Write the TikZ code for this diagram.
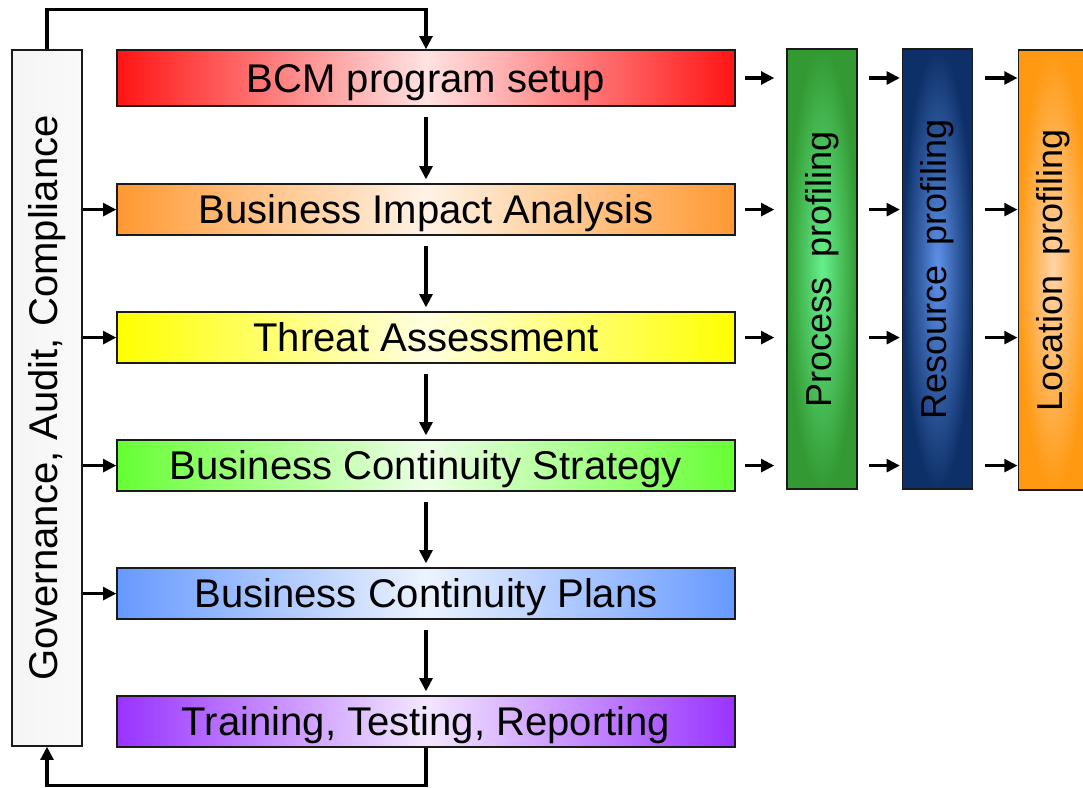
\documentclass[tikz,border=0pt]{standalone}
\usepackage{fontspec}
\setmainfont{Liberation Sans}
\usetikzlibrary{arrows.meta}
\definecolor{edge}{HTML}{1A1A1A}
\definecolor{setupred}{HTML}{FF1414}
\definecolor{biaorange}{HTML}{FF9933}
\definecolor{threatyellow}{HTML}{FFFF00}
\definecolor{stratgreen}{HTML}{66FF33}
\definecolor{plansblue}{HTML}{6699FF}
\definecolor{trainpurple}{HTML}{9933FF}
\definecolor{procout}{HTML}{339933}
\definecolor{procin}{HTML}{66F08C}
\definecolor{resout}{HTML}{0E3068}
\definecolor{resin}{HTML}{5E92EA}
\definecolor{locout}{HTML}{FF9911}
\definecolor{locin}{HTML}{FFD4A8}
\tikzset{phase/.style={draw=edge,line width=1pt,minimum width=15.45cm,minimum height=1.275cm,inner sep=0pt,text height=20.4pt,text depth=0pt,yshift=-.04cm,font=\fontsize{28.5}{34}\selectfont,left color=#1,right color=#1,middle color=#1!12},bar/.style={draw=edge,line width=1pt,minimum width=1.75cm,minimum height=11cm,inner sep=0pt,font=\fontsize{25.6}{30}\selectfont}}

\begin{document}
\begin{tikzpicture}[tr/.style={-{Triangle[length=3.3mm,width=3.2mm]},line width=2.2pt}]
\useasboundingbox (0,0) rectangle (27.075,-19.7);
\node[draw=edge,line width=1pt,minimum width=1.75cm,minimum height=17.4cm,inner sep=0pt,font=\fontsize{28.5}{34}\selectfont,left color=gray!8,middle color=gray!58,right color=gray!4] (gov) at (1.175,-9.95) {\rotatebox{90}{Governance, Audit, Compliance}};
\node[phase=setupred,minimum height=1.4cm] (setup) at (10.65,-1.91) {BCM program setup};
\node[phase=biaorange] (bia) at (10.65,-5.2) {Business Impact Analysis};
\node[phase=threatyellow] (threat) at (10.65,-8.4) {Threat Assessment};
\node[phase=stratgreen] (strat) at (10.65,-11.6) {Business Continuity Strategy};
\node[phase=plansblue] (plans) at (10.65,-14.8) {Business Continuity Plans};
\node[phase=trainpurple] (train) at (10.65,-18) {Training, Testing, Reporting};
\node[bar,inner color=procin,outer color=procout] (proc) at (20.55,-6.725) {\rotatebox{90}{Process\ \ profiling}};
\node[bar,inner color=resin,outer color=resout] (res) at (23.44,-6.725) {\rotatebox{90}{Resource\ \ profiling}};
\node[bar,inner color=locin,outer color=locout] (loc) at (26.33,-6.75) {\rotatebox{90}{Location\ \ profiling}};
% phase sequence
\foreach \a/\b in {setup/bia,bia/threat,threat/strat,strat/plans,plans/train}
  \draw[tr,shorten <=.25cm,shorten >=.1cm] (\a) -- (\b);
\foreach \b in {bia,threat,strat,plans}
  \draw[tr] (gov.east |- \b) -- (\b);
% profiling
\foreach \b in {setup,bia,threat,strat}{
  \draw[tr,shorten <=.22cm,shorten >=.3cm] (\b) -- (proc.west |- \b);
  \draw[tr,shorten <=.28cm,shorten >=.05cm] (proc.east |- \b) -- (res.west |- \b);
  \draw[tr,shorten <=.3cm] (res.east |- \b) -- (loc.west |- \b);
}
% feedback loop
\draw[tr] (gov.north) -- ++(0,1) -| (setup.north);
\draw[tr] (train.south) -- ++(0,-.95) -| (gov.south);
\end{tikzpicture}
\end{document}
